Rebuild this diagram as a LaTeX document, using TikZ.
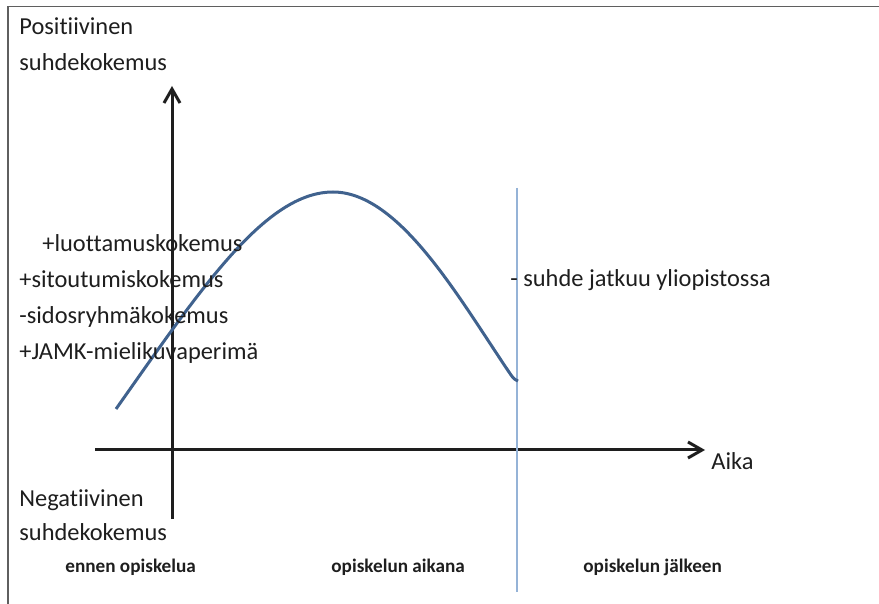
\documentclass[tikz,border=0pt]{standalone}
\usepackage{fontspec}
\setmainfont{Carlito}[Ligatures={NoCommon}]
\usepackage{xcolor}
\definecolor{Chart-curve}{RGB}{64, 98, 142}
\definecolor{Chart-divider}{RGB}{149, 179, 215}
\definecolor{Chart-axis}{RGB}{30, 30, 30}
\definecolor{Chart-frame}{RGB}{95, 95, 95}
\usetikzlibrary{arrows.meta,positioning,calc}

\begin{document}
\begin{tikzpicture} [ % 样式
            x=0.5pt, y=-0.5pt, >={Straight Barb[length=7pt,width=8pt]},
            plain/.style = {draw=none, inner sep=0pt, anchor=base west, text=Chart-axis, font=\fontsize{12.2}{14}\selectfont},
            phase/.style = {plain, font=\fontsize{9.6}{11}\selectfont\bfseries},
            axis-line/.style = {line width=1.5pt, draw=Chart-axis},
            curve-line/.style = {line width=1.5pt, draw=Chart-curve},
            divider-line/.style = {line width=0.8pt, draw=Chart-divider},
            frame-line/.style = {line width=0.8pt, draw=Chart-frame}
        ]

        % 边界
        \useasboundingbox (0,0) rectangle (879,604);
        \coordinate (f1) at (8,604);
        \coordinate (f2) at (8,6.5);
        \coordinate (f3) at (879,6.5);
        \draw [frame-line] (f1) -- (f2) -- (f3);

        % 坐标轴
        \coordinate (ya) at (172,519);
        \coordinate (yb) at (172,86);
        \coordinate (xa) at (95,450);
        \coordinate (xb) at (705,450);
        \draw [axis-line, ->] (ya) -- (yb);
        \draw [axis-line, ->] (xa) -- (xb);
        \node [plain] (aika) at (711,469) {Aika};

        % 分隔线
        \coordinate (da) at (517,188);
        \coordinate (db) at (517,592);
        \draw [divider-line] (da) -- (db);

        % 曲线
        \coordinate (cs) at (116,409);
        \coordinate (cp) at (333,192);
        \coordinate (ce) at (511,375);
        \coordinate (ch) at (518,381);
        \draw [curve-line] (cs) .. controls (200,290) and (265,192) .. (cp)
            .. controls (400,192) and (460,300) .. (ce)
            .. controls (514,379) .. (ch);

        % 上下标签
        \node [plain] (pos1) at (19,34.5) {Positiivinen};
        \node [plain] (pos2) at (19,70.5) {suhdekokemus};
        \node [plain] (neg1) at (19,507) {Negatiivinen};
        \node [plain] (neg2) at (19,540.5) {suhdekokemus};

        % 左侧列表
        \node [plain] (k1) at (42,252) {+luottamuskokemus};
        \node [plain] (k2) at (19,288) {+sitoutumiskokemus};
        \node [plain] (k3) at (19,324) {-sidosryhmäkokemus};
        \node [plain] (k4) at (19,360) {+JAMK-mielikuvaperimä};

        % 右侧
        \node [plain] (jatkuu) at (510,287) {- suhde jatkuu yliopistossa};

        % 阶段
        \node [phase] (ph1) at (65,572) {ennen opiskelua};
        \node [phase] (ph2) at (331,572) {opiskelun aikana};
        \node [phase] (ph3) at (583,572) {opiskelun jälkeen};

    \end{tikzpicture}
\end{document}
